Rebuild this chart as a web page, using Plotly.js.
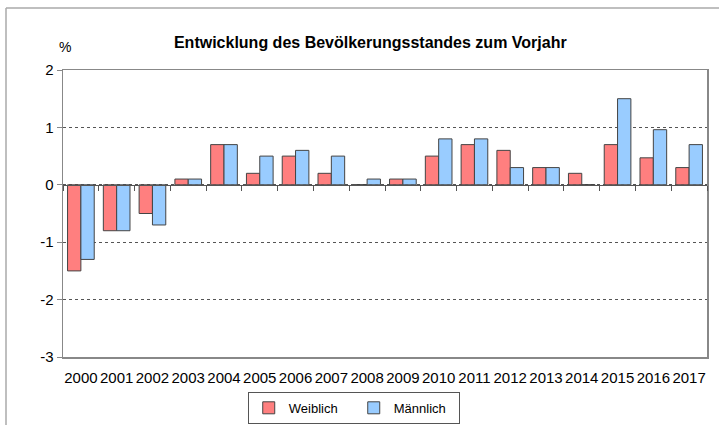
<!DOCTYPE html>
<html>
<head>
<meta charset="utf-8">
<script src="https://cdn.plot.ly/plotly-3.0.1.min.js"></script>
<style>
html,body{margin:0;padding:0;background:#fff;}
#chart{width:719px;height:425px;}
</style>
</head>
<body>
<div id="chart"></div>
<script>
const years = ['2000','2001','2002','2003','2004','2005','2006','2007','2008','2009','2010','2011','2012','2013','2014','2015','2016','2017'];
const weiblich = [-1.5,-0.8,-0.5,0.1,0.7,0.2,0.5,0.2,0,0.1,0.5,0.7,0.6,0.3,0.2,0.7,0.47,0.3];
const maennlich = [-1.3,-0.8,-0.7,0.1,0.7,0.5,0.6,0.5,0.1,0.1,0.8,0.8,0.3,0.3,0,1.5,0.96,0.7];
const yTicks = [-3,-2,-1,0,1,2];

const font = "'Liberation Sans', Arial, sans-serif";

const traces = [
  {type:'bar', name:'Weiblich', x:years, y:weiblich,
   marker:{color:'#FF7F7F', line:{color:'#444', width:1}}, hoverinfo:'x+y'},
  {type:'bar', name:'Männlich', x:years, y:maennlich,
   marker:{color:'#99CCFF', line:{color:'#444', width:1}}, hoverinfo:'x+y'},
  // invisible helper so the zero axis (with category-boundary ticks) is drawn
  {type:'scatter', mode:'none', x:years, y:maennlich, xaxis:'x2', yaxis:'y2',
   showlegend:false, hoverinfo:'skip'}
];

const layout = {
  width:719, height:425,
  margin:{l:63, r:12, t:70, b:68, autoexpand:false},
  paper_bgcolor:'#fff', plot_bgcolor:'rgba(0,0,0,0)',
  font:{family:font, size:14, color:'#000'},
  barmode:'group', bargap:0.255, bargroupgap:0,
  title:{text:'<b>Entwicklung des Bevölkerungsstandes zum Vorjahr</b>',
         font:{family:font, size:16, color:'#000'},
         x:0.515, xanchor:'center', y:0.9, yanchor:'middle', yref:'container'},
  xaxis:{type:'category', categoryorder:'array', categoryarray:years,
         range:[-0.5,17.5], showline:true, linecolor:'#888', linewidth:1.5, mirror:true,
         ticks:'', showgrid:false, zeroline:false, ticklabelstandoff:6,
         tickfont:{family:font, size:15, color:'#000'}, fixedrange:true},
  yaxis:{range:[-3,2], tickvals:yTicks, ticktext:yTicks.map(String),
         showline:true, linecolor:'#888', linewidth:1.5, mirror:true,
         ticks:'outside', ticklen:5, tickcolor:'#888',
         showgrid:true, gridcolor:'#555', griddash:'dot', gridwidth:1,
         zeroline:false,
         tickfont:{family:font, size:15, color:'#000'}, fixedrange:true},
  xaxis2:{type:'category', categoryorder:'array', categoryarray:years,
         anchor:'y2', domain:[0,1], side:'bottom',
         range:[-0.5,17.5], showline:true, linecolor:'#555', linewidth:1,
         ticks:'outside', tickson:'boundaries', ticklen:5, tickcolor:'#555', tickwidth:1,
         showticklabels:false, showgrid:false, zeroline:false, fixedrange:true},
  yaxis2:{anchor:'x2', domain:[0.6,1], range:[0,2], visible:false, fixedrange:true},
  legend:{orientation:'h', xref:'container', yref:'container',
          x:0.492, xanchor:'center', y:0.078, yanchor:'top',
          bordercolor:'#555', borderwidth:1, bgcolor:'#fff',
          font:{family:font, size:13, color:'#000'},
          itemwidth:30, entrywidth:60, tracegroupgap:0},
  annotations:[
    {text:'%', xref:'paper', yref:'paper', x:0.003, y:1.08, xanchor:'center', yanchor:'middle',
     showarrow:false, font:{family:font, size:14, color:'#000'}}
  ],
  shapes:[
    {type:'line', xref:'paper', yref:'paper', x0:-0.0885, x1:1.1, y0:1.216, y1:1.216,
     line:{color:'#aaa', width:1.5}},
    {type:'line', xref:'paper', yref:'paper', x0:-0.0885, x1:-0.0885, y0:1.216, y1:-0.3,
     line:{color:'#aaa', width:1.5}}
  ],
  showlegend:true
};

Plotly.newPlot('chart', traces, layout, {displayModeBar:false, staticPlot:true});
</script>
</body>
</html>
